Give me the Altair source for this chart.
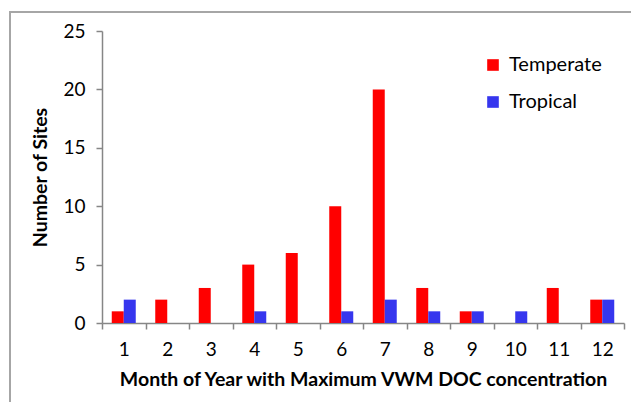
import altair as alt
import pandas as pd

months = [str(m) for m in range(1, 13)]
temperate = [1, 2, 3, 5, 6, 10, 20, 3, 1, 0, 3, 2]
tropical = [2, 0, 0, 1, 0, 1, 2, 1, 1, 1, 0, 2]
series = ["Temperate", "Tropical"]
colors = ["#FF0000", "#3636EE"]

rows = []
for i, m in enumerate(months):
    rows.append({"month": m, "type": "Temperate", "count": temperate[i]})
    rows.append({"month": m, "type": "Tropical", "count": tropical[i]})
df = pd.DataFrame(rows)

FONT = "Lato"

bars = alt.Chart(df).mark_bar(clip=False).encode(
    x=alt.X("month:N", sort=months,
            scale=alt.Scale(paddingInner=0, paddingOuter=0),
            axis=alt.Axis(title="Month of Year with Maximum VWM DOC concentration",
                          labelAngle=0, tickBand="extent", labelPadding=11,
                          titlePadding=11)),
    xOffset=alt.XOffset("type:N", sort=series,
                        scale=alt.Scale(paddingOuter=0.8125, paddingInner=0)),
    y=alt.Y("count:Q", scale=alt.Scale(domain=[0, 25]),
            axis=alt.Axis(title="Number of Sites", values=[0, 5, 10, 15, 20, 25],
                          grid=False, labelPadding=11, titlePadding=12)),
    color=alt.Color("type:N", sort=series,
                    scale=alt.Scale(domain=series, range=colors),
                    legend=alt.Legend(title=None, orient="none", legendX=381, legendY=24,
                                      symbolType="square", symbolSize=135,
                                      symbolStrokeWidth=0, rowPadding=17,
                                      labelFontSize=20, labelFont=FONT,
                                      labelColor="#000000", labelOffset=6)),
)

frame = alt.Chart(df).mark_rect(fill=None, stroke="#A6A6A6", strokeWidth=1.5,
                                clip=False).encode(
    x=alt.value(-92), x2=alt.value(560), y=alt.value(-19), y2=alt.value(420)
)

chart = alt.layer(frame, bars).properties(
    width=522, height=292,
    autosize=alt.AutoSizeParams(type="none"),
    padding={"left": 94, "top": 23, "right": 7, "bottom": 79},
).configure_view(stroke=None).configure_axis(
    domainColor="#868686", tickColor="#868686", domainWidth=1.5, tickWidth=1.5,
    tickSize=6, labelFont=FONT, labelFontSize=19, labelColor="#000000",
    titleFont=FONT, titleFontSize=19.5, titleFontWeight="bold", titleColor="#000000",
)

chart.save("out.html", embed_options={"renderer": "svg", "actions": False})
